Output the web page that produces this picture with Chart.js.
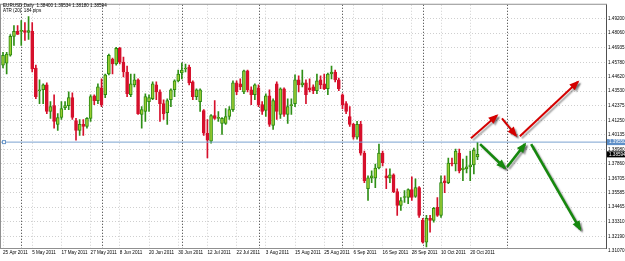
<!DOCTYPE html>
<html>
<head>
<meta charset="utf-8">
<script src="https://cdn.jsdelivr.net/npm/chart.js@4.4.0/dist/chart.umd.min.js"></script>
<style>
  html, body { margin: 0; padding: 0; background: #fff; }
</style>
</head>
<body>
<canvas id="chart" width="625" height="261"></canvas>
<script>
// EURUSD daily, one entry per trading day from 25 Apr 2011 (bar 0)
const opens = [1.4557,1.4572,1.4634,1.4781,1.4820,1.4820,1.4827,1.4812,1.4820,1.4534,
  1.4356,1.4364,1.4402,1.4194,1.4240,1.4093,1.4147,1.4225,1.4240,1.4302,
  1.4124,1.4047,1.4093,1.4078,1.4140,1.4317,1.4279,1.4379,1.4325,1.4487,
  1.4603,1.4565,1.4688,1.4580,1.4503,1.4325,1.4402,1.4441,1.4171,1.4194,
  1.4271,1.4294,1.4402,1.4348,1.4256,1.4186,1.4286,1.4364,1.4433,1.4495,
  1.4526,1.4541,1.4426,1.4310,1.4271,1.4202,1.4024,1.3962,1.4163,1.4140,
  1.4101,1.4101,1.4155,1.4209,1.4418,1.4410,1.4348,1.4511,1.4364,1.4325,
  1.4379,1.4248,1.4202,1.4317,1.4086,1.4410,1.4171,1.4372,1.4171,1.4240,
  1.4256,1.4441,1.4402,1.4418,1.4379,1.4387,1.4356,1.4441,1.4410,1.4372,
  1.4487,1.4503,1.4441,1.4325,1.4256,1.4155,1.4093,1.3993,1.4093,1.3869,
  1.3591,1.3676,1.3676,1.3753,1.3869,1.3692,1.3676,1.3699,1.3568,1.3460,
  1.3522,1.3522,1.3584,1.3530,1.3599,1.3344,1.3174,1.3360,1.3344,1.3445,
  1.3383,1.3653,1.3638,1.3792,1.3784,1.3869,1.3738,1.3746,1.3761,1.3777,
  1.3840];
const highs = [1.4657,1.4657,1.4796,1.4866,1.4866,1.4905,1.4889,1.4935,1.4889,1.4557,
  1.4441,1.4410,1.4418,1.4271,1.4325,1.4178,1.4271,1.4271,1.4348,1.4341,
  1.4140,1.4132,1.4132,1.4147,1.4325,1.4325,1.4410,1.4449,1.4487,1.4642,
  1.4611,1.4696,1.4696,1.4619,1.4549,1.4487,1.4487,1.4449,1.4232,1.4333,
  1.4325,1.4426,1.4426,1.4364,1.4286,1.4294,1.4372,1.4441,1.4518,1.4572,
  1.4565,1.4557,1.4433,1.4372,1.4372,1.4209,1.4132,1.4171,1.4279,1.4194,
  1.4147,1.4217,1.4232,1.4433,1.4433,1.4449,1.4518,1.4518,1.4387,1.4410,
  1.4402,1.4271,1.4333,1.4364,1.4294,1.4426,1.4379,1.4379,1.4294,1.4294,
  1.4480,1.4472,1.4518,1.4441,1.4449,1.4402,1.4487,1.4472,1.4487,1.4495,
  1.4549,1.4518,1.4456,1.4333,1.4271,1.4232,1.4101,1.4117,1.4117,1.3885,
  1.3692,1.3730,1.3784,1.3939,1.3885,1.3746,1.3746,1.3707,1.3591,1.3522,
  1.3576,1.3591,1.3684,1.3669,1.3607,1.3360,1.3383,1.3383,1.3445,1.3522,
  1.3692,1.3692,1.3831,1.3831,1.3900,1.3900,1.3823,1.3846,1.3885,1.3908,
  1.39534];
const lows = [1.4534,1.4487,1.4626,1.4711,1.4796,1.4711,1.4750,1.4758,1.4503,1.4294,
  1.4256,1.4256,1.4178,1.4140,1.4063,1.4047,1.4132,1.4209,1.4209,1.4132,
  1.3970,1.4008,1.4008,1.4063,1.4117,1.4248,1.4256,1.4232,1.4302,1.4480,
  1.4487,1.4557,1.4565,1.4464,1.4310,1.4310,1.4387,1.4171,1.4063,1.4117,
  1.4194,1.4286,1.4286,1.4117,1.4132,1.4093,1.4232,1.4310,1.4426,1.4449,
  1.4503,1.4402,1.4286,1.4286,1.4194,1.4008,1.3831,1.3947,1.4132,1.4117,
  1.4016,1.4093,1.4132,1.4194,1.4325,1.4364,1.4333,1.4348,1.4248,1.4286,
  1.4232,1.4171,1.4155,1.4078,1.4055,1.4132,1.4140,1.4155,1.4101,1.4171,
  1.4232,1.4348,1.4387,1.4256,1.4348,1.4333,1.4333,1.4372,1.4364,1.4325,
  1.4449,1.4426,1.4356,1.4217,1.4178,1.4078,1.3978,1.3978,1.3854,1.3638,
  1.3499,1.3638,1.3599,1.3746,1.3769,1.3591,1.3638,1.3561,1.3383,1.3421,
  1.3483,1.3475,1.3499,1.3522,1.3367,1.3166,1.3136,1.3251,1.3329,1.3375,
  1.3367,1.3561,1.3630,1.3769,1.3730,1.3715,1.3653,1.3715,1.3653,1.3707,
  1.38180];
const closes = [1.4634,1.4642,1.4781,1.4820,1.4796,1.4827,1.4812,1.4827,1.4526,1.4310,
  1.4364,1.4402,1.4194,1.4232,1.4117,1.4147,1.4217,1.4240,1.4302,1.4147,
  1.4047,1.4093,1.4078,1.4140,1.4310,1.4279,1.4387,1.4248,1.4480,1.4634,
  1.4565,1.4688,1.4580,1.4503,1.4333,1.4410,1.4441,1.4178,1.4209,1.4310,
  1.4302,1.4410,1.4348,1.4256,1.4178,1.4279,1.4364,1.4433,1.4487,1.4518,
  1.4534,1.4418,1.4310,1.4364,1.4364,1.4024,1.3970,1.4163,1.4140,1.4147,
  1.4140,1.4155,1.4209,1.4418,1.4348,1.4387,1.4511,1.4364,1.4325,1.4402,
  1.4248,1.4194,1.4317,1.4093,1.4279,1.4194,1.4372,1.4171,1.4232,1.4248,
  1.4441,1.4402,1.4418,1.4325,1.4364,1.4356,1.4433,1.4402,1.4372,1.4487,
  1.4503,1.4441,1.4372,1.4248,1.4194,1.4093,1.3993,1.4093,1.3869,1.3653,
  1.3676,1.3692,1.3753,1.3869,1.3792,1.3676,1.3699,1.3568,1.3460,1.3499,
  1.3530,1.3584,1.3522,1.3599,1.3383,1.3174,1.3360,1.3344,1.3437,1.3383,
  1.3638,1.3638,1.3792,1.3784,1.3885,1.3730,1.3753,1.3761,1.3777,1.3893,
  1.38594];

// time axis labels, one every 8 bars
const xTickBars = [0, 8, 16, 24, 32, 40, 48, 56, 64, 72, 80, 88, 96, 104, 112, 120, 128];
const xTickLabels = ['25 Apr 2011', '5 May 2011', '17 May 2011', '27 May 2011', '8 Jun 2011',
  '20 Jun 2011', '30 Jun 2011', '12 Jul 2011', '22 Jul 2011', '3 Aug 2011', '15 Aug 2011',
  '25 Aug 2011', '6 Sep 2011', '16 Sep 2011', '28 Sep 2011', '10 Oct 2011', '20 Oct 2011'];
// first bar of each month (period separators)
const monthStartBars = [5, 27, 49, 70, 93, 115, 138];

// price axis labels
const priceTicks = [1.49200, 1.48060, 1.46935, 1.45780, 1.44620, 1.43530, 1.42375, 1.41250,
  1.40135, 1.38980, 1.37860, 1.36705, 1.35585, 1.34465, 1.33310, 1.32190, 1.31070];

// horizontal line and last price
const hLinePrice = 1.39550;
const lastPrice = 1.38594;

// hand drawn arrows: [bar, price] start and end
const redArrows = [
  [[128.2, 1.3985], [135.3, 1.4163]],
  [[136.7, 1.4140], [140.5, 1.4008]],
  [[141.6, 1.4001], [157.5, 1.4426]]
];
const greenArrows = [
  [[130.7, 1.3939], [137.5, 1.3753]],
  [[138.1, 1.3761], [143.0, 1.3939]],
  [[144.7, 1.3939], [158.1, 1.3275]]
];

const bullFill = '#9acd32', bullLine = '#2b8a10';
const bearFill = '#d6102c', bearLine = '#d6102c';
const isBull = opens.map((o, i) => closes[i] >= o);

const xMin = -0.55, xMax = 165.2;
const yMax = 1.50281, yMin = 1.31278;

const arrowDatasets = [];
redArrows.forEach(a => arrowDatasets.push({
  type: 'line', data: a.map(p => ({ x: p[0], y: p[1] })), borderColor: '#d40000',
  borderWidth: 2, pointRadius: 0, order: -2, arrow: true
}));
greenArrows.forEach(a => arrowDatasets.push({
  type: 'line', data: a.map(p => ({ x: p[0], y: p[1] })), borderColor: '#16880e',
  borderWidth: 2.6, pointRadius: 0, order: -2, arrow: true
}));

const extras = {
  id: 'extras',
  beforeDatasetsDraw(chart) {
    const { ctx, chartArea: a, scales: { x } } = chart;
    ctx.save();
    ctx.strokeStyle = '#303030';
    ctx.lineWidth = 1;
    ctx.setLineDash([1, 2]);
    monthStartBars.forEach(b => {
      const px = Math.round(x.getPixelForValue(b)) + 0.5;
      ctx.beginPath();
      ctx.moveTo(px, a.top);
      ctx.lineTo(px, a.bottom);
      ctx.stroke();
    });
    ctx.restore();
  },
  beforeDatasetDraw(chart, args) {
    if (args.meta._dataset.arrow) {
      const ctx = chart.ctx;
      ctx.save();
      ctx.shadowColor = 'rgba(0,0,0,0.35)';
      ctx.shadowOffsetX = 2;
      ctx.shadowOffsetY = 2;
      ctx.shadowBlur = 1.5;
    }
  },
  afterDatasetDraw(chart, args) {
    const ds = args.meta._dataset;
    if (!ds.arrow) return;
    const ctx = chart.ctx;
    const pts = args.meta.data;
    const p0 = pts[0], p1 = pts[pts.length - 1];
    const ang = Math.atan2(p1.y - p0.y, p1.x - p0.x);
    const len = 8, half = 4;
    ctx.fillStyle = ds.borderColor;
    ctx.beginPath();
    ctx.moveTo(p1.x + Math.cos(ang) * 2, p1.y + Math.sin(ang) * 2);
    ctx.lineTo(p1.x - Math.cos(ang) * len - Math.sin(ang) * half, p1.y - Math.sin(ang) * len + Math.cos(ang) * half);
    ctx.lineTo(p1.x - Math.cos(ang) * len + Math.sin(ang) * half, p1.y - Math.sin(ang) * len - Math.cos(ang) * half);
    ctx.closePath();
    ctx.fill();
    ctx.restore();
  },
  afterDraw(chart) {
    const { ctx, chartArea: a, scales: { x, y } } = chart;
    ctx.save();
    // frame
    ctx.strokeStyle = '#909090';
    ctx.lineWidth = 1;
    ctx.strokeRect(a.left - 0.5, a.top - 0.5, a.right - a.left + 1, a.bottom - a.top + 1);
    ctx.strokeStyle = '#505050';
    ctx.beginPath();
    ctx.moveTo(a.right + 0.5, a.top);
    ctx.lineTo(a.right + 0.5, a.bottom + 1);
    ctx.stroke();
    // small square at start of horizontal line
    const hy = y.getPixelForValue(hLinePrice);
    ctx.strokeStyle = '#6a96c8';
    ctx.fillStyle = '#fff';
    ctx.fillRect(a.left + 1, hy - 1.5, 3, 3);
    ctx.strokeRect(a.left + 1.5, hy - 1.5, 3, 3);
    // price boxes on the axis
    ctx.font = '4.6px "Liberation Sans", Arial, sans-serif';
    ctx.textBaseline = 'middle';
    ctx.textAlign = 'left';
    const box = (price, bg) => {
      const py = y.getPixelForValue(price);
      ctx.fillStyle = bg;
      ctx.fillRect(a.right + 1, py - 3, 625 - a.right - 1, 6);
      ctx.fillStyle = '#fff';
      ctx.fillText(price.toFixed(5), a.right + 3, py);
    };
    box(hLinePrice, '#5e8fc8');
    box(lastPrice, '#000');
    // header
    ctx.fillStyle = '#000';
    ctx.font = '4.6px "Liberation Sans", Arial, sans-serif';
    ctx.fillText('EURUSD,Daily  1.38400 1.39534 1.38180 1.38594', 3, 5.5);
    ctx.fillText('ATR (20)  184 pips', 3, 10.5);
    ctx.restore();
  }
};

const ctx = document.getElementById('chart').getContext('2d');
const chart = new Chart(ctx, {
  type: 'bar',
  data: {
    datasets: [
      {
        label: 'body',
        data: opens.map((o, i) => ({ x: i, y: [o, closes[i]] })),
        backgroundColor: isBull.map(b => b ? bullFill : bearFill),
        borderColor: isBull.map(b => b ? bullLine : bearLine),
        borderWidth: 1,
        borderSkipped: false,
        barThickness: 3,
        minBarLength: 1,
        grouped: false,
        order: 0
      },
      {
        label: 'wick',
        data: lows.map((l, i) => ({ x: i, y: [l, highs[i]] })),
        backgroundColor: isBull.map(b => b ? '#2f8f16' : bearFill),
        borderWidth: 0,
        barThickness: 1,
        grouped: false,
        order: 1
      },
      {
        type: 'line',
        label: 'level',
        data: [{ x: xMin, y: hLinePrice }, { x: xMax, y: hLinePrice }],
        borderColor: '#7aa2d0',
        borderWidth: 1,
        pointRadius: 0,
        order: -1
      },
      ...arrowDatasets
    ]
  },
  options: {
    responsive: false,
    animation: false,
    devicePixelRatio: 1,
    layout: { padding: { left: 1, top: 2, right: 0, bottom: 0 } },
    plugins: { legend: { display: false }, tooltip: { enabled: false } },
    scales: {
      x: {
        type: 'linear',
        offset: false,
        min: xMin,
        max: xMax,
        afterBuildTicks: s => { s.ticks = xTickBars.map(v => ({ value: v })); },
        afterFit: s => { s.height = 13; },
        ticks: {
          align: 'start',
          maxRotation: 0,
          autoSkip: false,
          padding: 2,
          color: '#000',
          font: { family: '"Liberation Sans", Arial, sans-serif', size: 4.6 },
          callback: v => xTickLabels[xTickBars.indexOf(v)]
        },
        grid: { color: '#cfcfcf', drawTicks: false, offset: false },
        border: { display: false, dash: [1, 2] }
      },
      y: {
        position: 'right',
        min: yMin,
        max: yMax,
        afterBuildTicks: s => { s.ticks = priceTicks.map(v => ({ value: v })); },
        afterFit: s => { s.width = 19; },
        ticks: {
          padding: 2,
          color: '#000',
          font: { family: '"Liberation Sans", Arial, sans-serif', size: 4.6 },
          callback: v => v.toFixed(5)
        },
        grid: {
          color: c => (c.tick && c.tick.value < yMin) ? 'rgba(0,0,0,0)' : '#cfcfcf',
          drawTicks: false
        },
        border: { display: false, dash: [1, 2] }
      }
    }
  },
  plugins: [extras]
});
</script>
</body>
</html>
